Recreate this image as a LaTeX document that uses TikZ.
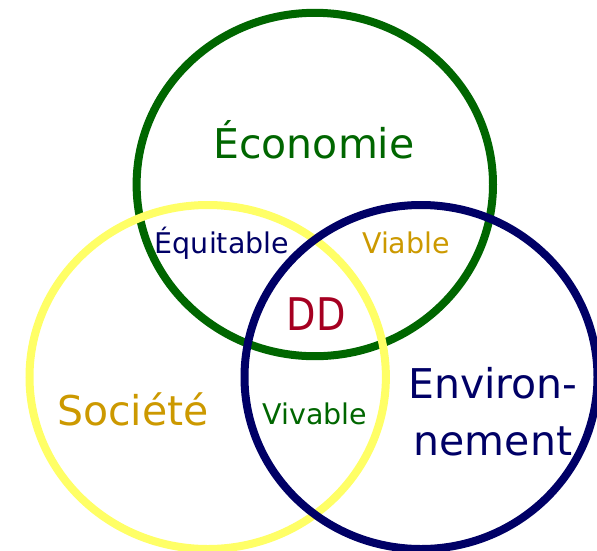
\documentclass[tikz,border=0pt]{standalone}
\usepackage{fontspec}
\setmainfont{DejaVu Sans}
\definecolor{ecogreen}{HTML}{006600}
\definecolor{socyellow}{HTML}{FFFF66}
\definecolor{envnavy}{HTML}{000066}
\definecolor{gold}{HTML}{CC9900}
\definecolor{ddred}{HTML}{A50021}
\begin{document}
\begin{tikzpicture}[x=1pt,y=-1pt,
  ring/.style={line width=8pt},
  big/.style={anchor=base,inner sep=0pt,font=\fontsize{41}{49}\selectfont},
  small/.style={anchor=base,inner sep=0pt,font=\fontsize{28.5}{34}\selectfont}]
\useasboundingbox (0,0) rectangle (597,550);
\draw[ring,ecogreen] (314.8,184.5) ellipse [x radius=178.2pt, y radius=171.7pt];
\draw[ring,socyellow] (207.7,377) ellipse [x radius=178.2pt, y radius=172pt];
\draw[ring,envnavy] (421,377) ellipse [x radius=176.5pt, y radius=172pt];
\node[big,ecogreen] (eco) at (314,158) {Économie};
\node[small,envnavy] (equi) at (222,253) {Équitable};
\node[small,gold] (viab) at (406,253) {Viable};
\node[anchor=base,inner sep=0pt,ddred,font=\fontsize{45}{52}\selectfont] (dd) at (316,330) {\scalebox{0.85}[1]{DD}};
\node[big,gold] (soc) at (133,425) {Société};
\node[small,ecogreen] (viv) at (315,424) {Vivable};
\node[big,envnavy] (env1) at (493,398) {Environ-};
\node[big,envnavy] (env2) at (493,455) {nement};
\end{tikzpicture}
\end{document}
